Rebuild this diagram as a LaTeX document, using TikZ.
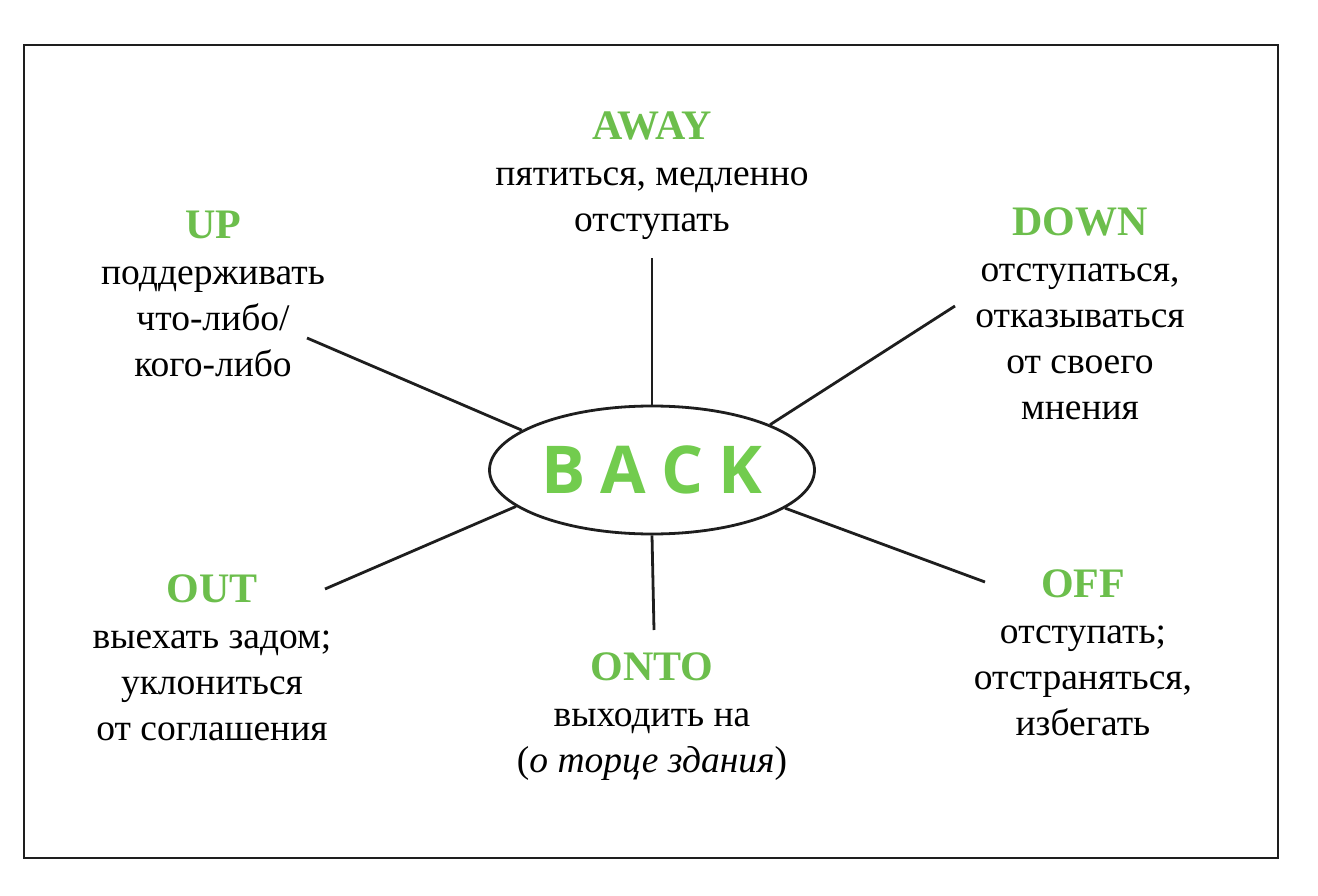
\documentclass[tikz,border=0pt]{standalone}
\usepackage{fontspec}
\setmainfont{Liberation Serif}
\newfontfamily\backfont{Open Sans}
\usetikzlibrary{shapes.geometric}
\definecolor{cHdr}{HTML}{6CBE4C}
\definecolor{cBack}{HTML}{72CC4E}
\definecolor{cLine}{HTML}{1E1E1E}

\newcommand{\hdrword}[1]{{\fontsize{42}{46}\selectfont\bfseries\color{cHdr}#1}}

\begin{document}
\begin{tikzpicture}[
    x=1pt, y=-1pt,
    frame/.style={draw=cLine, line width=2.8pt},
    spoke/.style={draw=cLine, line width=2.8pt},
    core/.style={ellipse, draw=cLine, line width=2.8pt, inner sep=0pt,
                 minimum width=325pt, minimum height=128pt, fill=white},
    meaning/.style={align=center, inner sep=0pt, anchor=north,
                    font=\fontsize{37.5}{46}\selectfont, text=black},
]
\useasboundingbox (0,0) rectangle (1318,896);

% ===================== Рамка =====================
\draw[frame] (24,45) rectangle (1278,858);

% ===================== Центр =====================
\node[core] (back) at (652,470)
      {\fontsize{66}{66}\selectfont\backfont\bfseries\color{cBack}B\hspace{15pt}A\hspace{15pt}C\hspace{15pt}K};

% ===================== Значения =====================
\node[meaning] (away) at (652,112)
      {\hdrword{AWAY}\\пятиться, медленно\\отступать};
\node[meaning] (up) at (213,211)
      {\hdrword{UP}\\поддерживать\\что-либо/\\кого-либо};
\node[meaning] (down) at (1080,207)
      {\hdrword{DOWN}\\отступаться,\\отказываться\\от своего\\мнения};
\node[meaning] (out) at (212,574)
      {\hdrword{OUT}\\выехать задом;\\уклониться\\от соглашения};
\node[meaning] (onto) at (652,652)
      {\hdrword{ONTO}\\выходить на\\(\textit{о торце здания})};
\node[meaning] (off) at (1083,569)
      {\hdrword{OFF}\\отступать;\\отстраняться,\\избегать};

% ===================== Лучи =====================
\coordinate (eAway) at (652,258);
\coordinate (eUp)   at (307,338);
\coordinate (eDown) at (955,306);
\coordinate (eOut)  at (325,589);
\coordinate (eOnto) at (654,630);
\coordinate (eOff)  at (985,582);

\draw[spoke] (back.90)  -- (eAway);
\draw[spoke] (back.163) -- (eUp);
\draw[spoke] (back.21)  -- (eDown);
\draw[spoke] (back.195) -- (eOut);
\draw[spoke] (back.270) -- (eOnto);
\draw[spoke] (back.344) -- (eOff);

\end{tikzpicture}
\end{document}
